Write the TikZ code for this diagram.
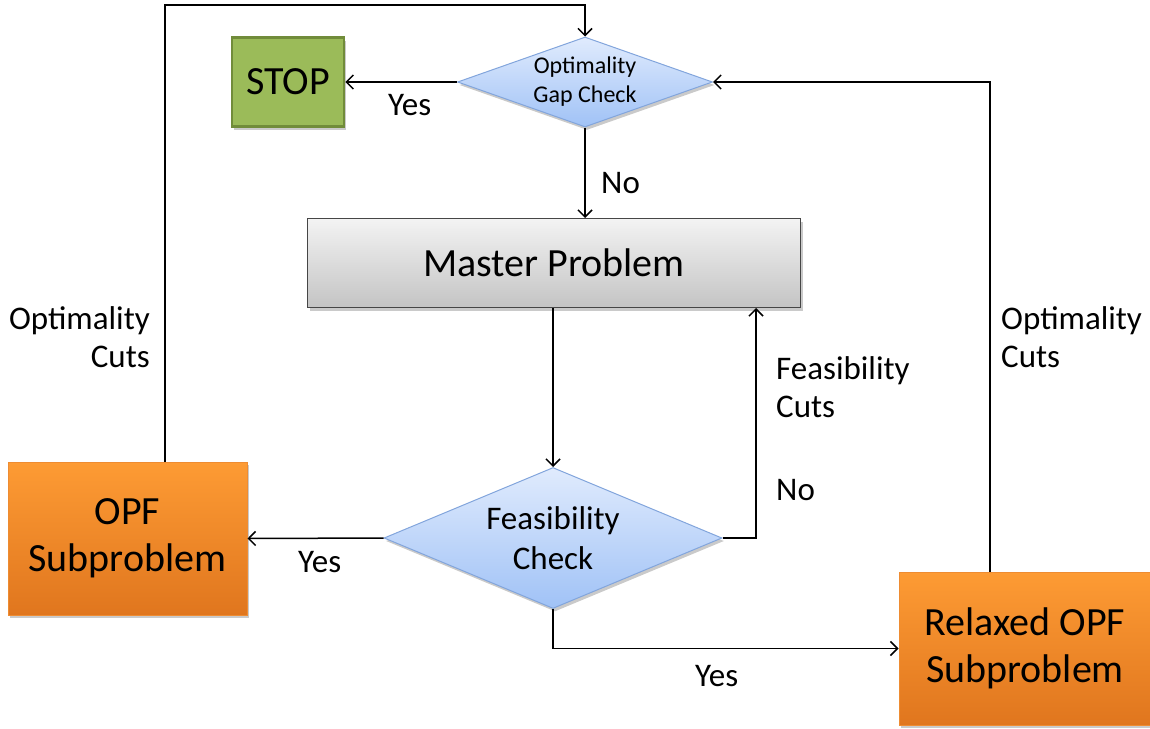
\documentclass[tikz,border=0pt]{standalone}
\usepackage{fontspec}
\setmainfont{Carlito}
\usetikzlibrary{arrows.meta,shapes.geometric,shadows}
\definecolor{orangetop}{RGB}{253,155,52}
\definecolor{orangebot}{RGB}{224,118,30}
\definecolor{orangeline}{RGB}{238,140,50}
\definecolor{bluetop}{RGB}{224,235,253}
\definecolor{bluebot}{RGB}{160,194,246}
\definecolor{blueline}{RGB}{130,165,220}
\definecolor{greytop}{RGB}{243,243,243}
\definecolor{greybot}{RGB}{196,196,196}
\definecolor{greyline}{RGB}{70,70,70}
\definecolor{stopfill}{RGB}{155,187,89}
\definecolor{stopline}{RGB}{113,140,58}
\begin{document}
\begin{tikzpicture}[x=1pt,y=-1pt,
  big/.style={font=\fontsize{40}{47}\selectfont},
  mid/.style={font=\fontsize{33}{38}\selectfont},
  small/.style={font=\fontsize{24}{29}\selectfont},
  soft/.style={drop shadow={shadow xshift=2pt,shadow yshift=-3pt,opacity=0.35,fill=black!60}},
  subbox/.style={rectangle,draw=orangeline,line width=1pt,top color=orangetop,bottom color=orangebot,
    soft,align=center,big,inner sep=0pt},
  decision/.style={diamond,draw=blueline,line width=1pt,top color=bluetop,bottom color=bluebot,
    soft,align=center,inner sep=0pt},
  arr/.style={draw=black,line width=1.5pt,-{Straight Barb[length=7pt,width=14pt,line width=1.5pt]}},
  lab/.style={mid,inner sep=0pt,align=left}
]
\useasboundingbox (0,0) rectangle (1150,728);

% decision nodes
\node[decision,small,minimum width=255pt,minimum height=90pt,aspect=2.83] (gap) at (585,82)
  {Optimality\\Gap Check};
\node[decision,font=\fontsize{33}{40}\selectfont,minimum width=338pt,minimum height=141pt,aspect=2.4] (feas) at (553,538)
  {Feasibility\\Check};

% boxes
\node[rectangle,draw=stopline,line width=2.5pt,fill=stopfill,soft,big,
  minimum width=112pt,minimum height=89pt,inner sep=0pt] (stop) at (288,82) {STOP};
\node[rectangle,draw=greyline,line width=1pt,top color=greytop,bottom color=greybot,soft,big,
  minimum width=493pt,minimum height=89pt,inner sep=0pt] (master) at (554,263) {Master Problem};
\node[subbox,minimum width=239pt,minimum height=153pt] (opf) at (127.5,538.5) {OPF\\Subproblem};
\node[subbox,minimum width=252pt,minimum height=153pt] (relax) at (1025,648.5) {Relaxed OPF\\Subproblem};

% routing points
\coordinate (lx) at (165,5);
\coordinate (fx) at (756,0);
\coordinate (rx) at (990,0);

% connectors
\draw[arr] (lx |- opf.north) -- (lx) -| (gap.north);
\draw[arr] (gap.west) -- (stop.east);
\draw[arr] (gap.south) -- (gap.south |- master.north);
\draw[arr] (feas.north |- master.south) -- (feas.north);
\draw[arr] (feas.east) -| (fx |- master.south);
\draw[arr] (feas.west) -- (opf.east);
\draw[arr] (feas.south) |- (relax.west);
\draw[arr] (rx |- relax.north) |- (gap.east);

% labels
\node[lab,anchor=west] (yes1) at (388,105) {Yes};
\node[lab,anchor=west] (no1) at (601,183) {No};
\node[lab,anchor=west,align=left] (fcuts) at (776,387) {Feasibility\\Cuts};
\node[lab,anchor=west] (no2) at (776,490) {No};
\node[lab,anchor=west] (yes2) at (298,562) {Yes};
\node[lab,anchor=west] (yes3) at (695,676) {Yes};
\node[lab,anchor=east,align=right] (ocl) at (150,337) {Optimality\\Cuts};
\node[lab,anchor=west,align=left] (ocr) at (1001,337) {Optimality\\Cuts};
\end{tikzpicture}
\end{document}
